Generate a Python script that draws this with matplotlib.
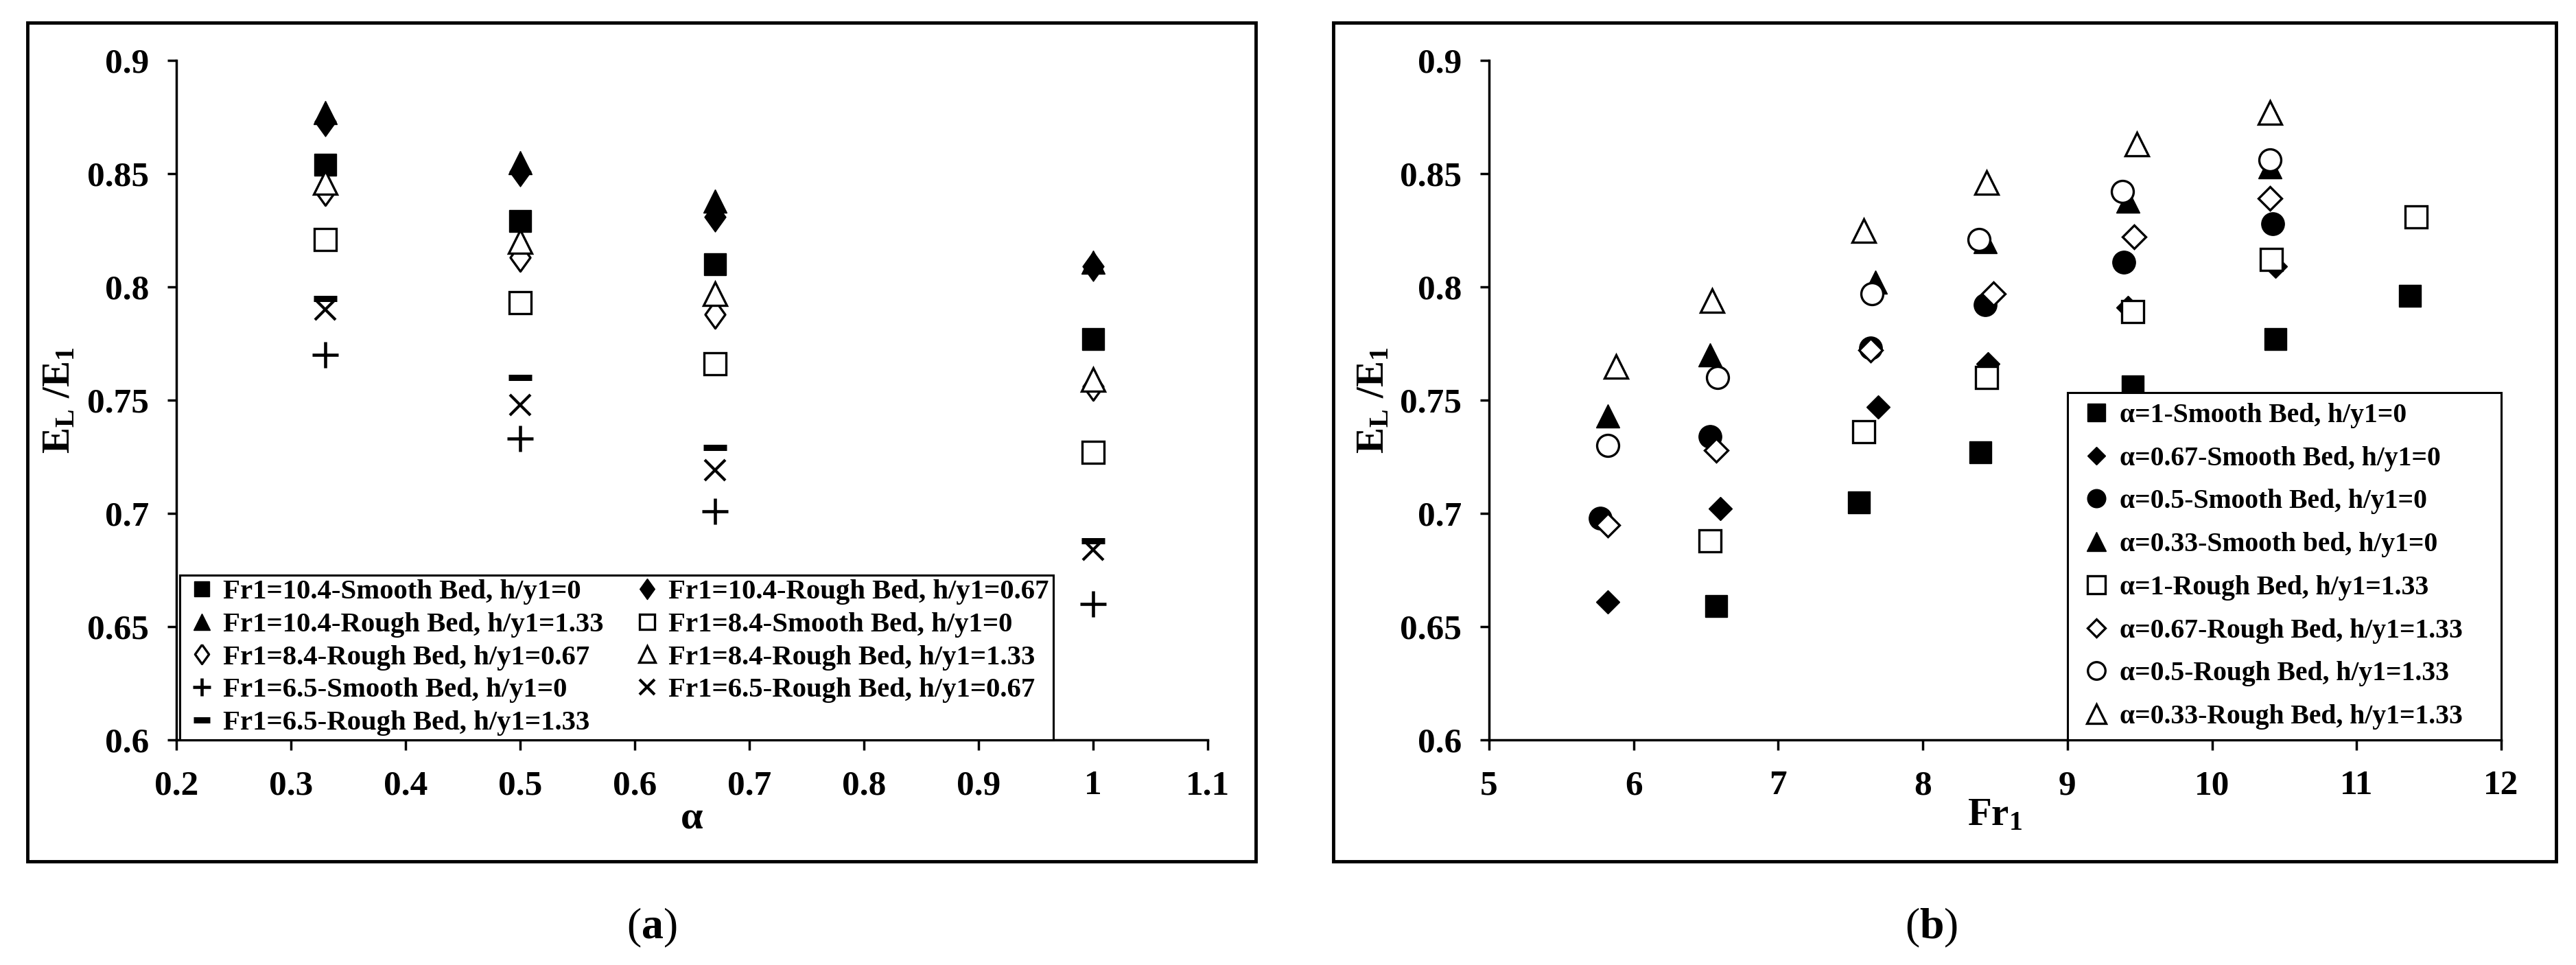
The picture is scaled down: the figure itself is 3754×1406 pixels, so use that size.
import matplotlib
matplotlib.use("Agg")
import matplotlib.pyplot as plt
from matplotlib.patches import Rectangle

plt.rcParams['font.family'] = ['Liberation Serif', 'DejaVu Serif']
plt.rcParams['font.weight'] = 'bold'
plt.rcParams['mathtext.fontset'] = 'custom'
plt.rcParams['mathtext.rm'] = 'Liberation Serif'
plt.rcParams['mathtext.bf'] = 'Liberation Serif:bold'
plt.rcParams['mathtext.it'] = 'Liberation Serif:italic'

# ---------------- data: panel (a) ----------------
alpha_vals = [0.33, 0.5, 0.67, 1.0]
a_fr104_smooth = [0.854, 0.829, 0.810, 0.777]
a_fr104_rough067 = [0.873, 0.851, 0.831, 0.809]
a_fr104_rough133 = [0.877, 0.855, 0.838, 0.811]
a_fr84_smooth = [0.821, 0.793, 0.766, 0.727]
a_fr84_rough067 = [0.842, 0.813, 0.788, 0.756]
a_fr84_rough133 = [0.846, 0.820, 0.797, 0.759]
a_fr65_smooth = [0.770, 0.733, 0.701, 0.660]
a_fr65_rough067 = [0.790, 0.748, 0.719, 0.684]
a_fr65_rough133 = [0.795, 0.760, 0.729, 0.688]
a_labels = ["Fr1=10.4-Smooth Bed, h/y1=0", "Fr1=10.4-Rough Bed, h/y1=0.67",
            "Fr1=10.4-Rough Bed, h/y1=1.33", "Fr1=8.4-Smooth Bed, h/y1=0",
            "Fr1=8.4-Rough Bed, h/y1=0.67", "Fr1=8.4-Rough Bed, h/y1=1.33",
            "Fr1=6.5-Smooth Bed, h/y1=0", "Fr1=6.5-Rough Bed, h/y1=0.67",
            "Fr1=6.5-Rough Bed, h/y1=1.33"]
a_xticks = [0.2, 0.3, 0.4, 0.5, 0.6, 0.7, 0.8, 0.9, 1.0, 1.1]
a_xticklabels = ["0.2", "0.3", "0.4", "0.5", "0.6", "0.7", "0.8", "0.9", "1", "1.1"]
yticks = [0.6, 0.65, 0.7, 0.75, 0.8, 0.85, 0.9]
yticklabels = ["0.6", "0.65", "0.7", "0.75", "0.8", "0.85", "0.9"]

# ---------------- data: panel (b) ----------------
b_a1_smooth_x = [6.57, 7.56, 8.40, 9.45, 10.44, 11.37]
b_a1_smooth_y = [0.659, 0.705, 0.727, 0.756, 0.777, 0.796]
b_a067_smooth_x = [5.82, 6.60, 7.69, 8.45, 9.42, 10.44]
b_a067_smooth_y = [0.661, 0.702, 0.747, 0.766, 0.791, 0.809]
b_a05_smooth_x = [5.77, 6.53, 7.64, 8.43, 9.39, 10.42]
b_a05_smooth_y = [0.698, 0.734, 0.773, 0.792, 0.811, 0.828]
b_a033_smooth_x = [5.82, 6.53, 7.67, 8.43, 9.42, 10.40]
b_a033_smooth_y = [0.743, 0.770, 0.802, 0.820, 0.838, 0.853]
b_a1_rough_x = [6.53, 7.59, 8.44, 9.45, 10.41, 11.41]
b_a1_rough_y = [0.688, 0.736, 0.760, 0.789, 0.812, 0.831]
b_a067_rough_x = [5.82, 6.57, 7.64, 8.49, 9.46, 10.40]
b_a067_rough_y = [0.695, 0.728, 0.772, 0.797, 0.822, 0.839]
b_a05_rough_x = [5.82, 6.58, 7.65, 8.39, 9.38, 10.40]
b_a05_rough_y = [0.730, 0.760, 0.797, 0.821, 0.842, 0.856]
b_a033_rough_x = [5.88, 6.54, 7.59, 8.44, 9.48, 10.40]
b_a033_rough_y = [0.765, 0.794, 0.825, 0.846, 0.863, 0.877]
b_labels = ["α=1-Smooth Bed, h/y1=0", "α=0.67-Smooth Bed, h/y1=0",
            "α=0.5-Smooth Bed, h/y1=0", "α=0.33-Smooth bed, h/y1=0",
            "α=1-Rough Bed, h/y1=1.33", "α=0.67-Rough Bed, h/y1=1.33",
            "α=0.5-Rough Bed, h/y1=1.33", "α=0.33-Rough Bed, h/y1=1.33"]
b_xticks = [5, 6, 7, 8, 9, 10, 11, 12]
b_xticklabels = ["5", "6", "7", "8", "9", "10", "11", "12"]

# ---------------- layout ----------------
W, H = 3754, 1406
fig = plt.figure(figsize=(W / 100, H / 100), dpi=100)


def px_rect(x0, y0, x1, y1):
    return [x0 / W, 1 - y1 / H, (x1 - x0) / W, (y1 - y0) / H]


def add_frame(x0, y0, x1, y1):
    r = px_rect(x0, y0, x1, y1)
    fig.add_artist(Rectangle((r[0], r[1]), r[2], r[3], transform=fig.transFigure,
                             fill=False, lw=3.5, ec='black', zorder=0))


add_frame(40, 33, 1830, 1255)
add_frame(1943, 33, 3725, 1255)

ax1 = fig.add_axes(px_rect(257, 88, 1760, 1078))
ax2 = fig.add_axes(px_rect(2170, 88, 3645, 1078))

TALL_DIAMOND = [(0, 1), (0.72, 0), (0, -1), (-0.72, 0), (0, 1)]
OPEN = dict(mfc='white', mec='black', mew=2.4)
FILL = dict(mfc='black', mec='black')

# ---------------- panel (a) ----------------
a_series = [a_fr104_smooth, a_fr104_rough067, a_fr104_rough133, a_fr84_smooth,
            a_fr84_rough067, a_fr84_rough133, a_fr65_smooth, a_fr65_rough067,
            a_fr65_rough133]
a_styles = [
    dict(marker='s', ms=23, **FILL),
    dict(marker=TALL_DIAMOND, ms=31, **FILL),
    dict(marker='^', ms=24, **FILL),
    dict(marker='s', ms=23, **OPEN),
    dict(marker=TALL_DIAMOND, ms=29, **OPEN),
    dict(marker='^', ms=24, **OPEN),
    dict(marker='+', ms=27, mec='black', mew=3.3),
    dict(marker='x', ms=22, mec='black', mew=3.0),
    dict(marker='_', ms=24, mec='black', mew=6.5),
]
a_handles = []
for vals, st, lab in zip(a_series, a_styles, a_labels):
    h, = ax1.plot(alpha_vals, vals, linestyle='none', label=lab, **st)
    a_handles.append(h)

# ---------------- panel (b) ----------------
b_series = [(b_a1_smooth_x, b_a1_smooth_y), (b_a067_smooth_x, b_a067_smooth_y),
            (b_a05_smooth_x, b_a05_smooth_y), (b_a033_smooth_x, b_a033_smooth_y),
            (b_a1_rough_x, b_a1_rough_y), (b_a067_rough_x, b_a067_rough_y),
            (b_a05_rough_x, b_a05_rough_y), (b_a033_rough_x, b_a033_rough_y)]
b_styles = [
    dict(marker='s', ms=23, **FILL),
    dict(marker='D', ms=17, **FILL),
    dict(marker='o', ms=24, **FILL),
    dict(marker='^', ms=25, **FILL),
    dict(marker='s', ms=23, **OPEN),
    dict(marker='D', ms=17, **OPEN),
    dict(marker='o', ms=23, **OPEN),
    dict(marker='^', ms=25, **OPEN),
]
b_handles = []
for (xs, ys), st, lab in zip(b_series, b_styles, b_labels):
    h, = ax2.plot(xs, ys, linestyle='none', label=lab, **st)
    b_handles.append(h)

# ---------------- axes styling ----------------
for ax in (ax1, ax2):
    ax.set_facecolor('none')
    for s in ('top', 'right'):
        ax.spines[s].set_visible(False)
    for s in ('left', 'bottom'):
        ax.spines[s].set_linewidth(2.5)
        ax.spines[s].set_color('black')
    ax.set_ylim(0.6, 0.9)
    ax.set_yticks(yticks)
    ax.set_yticklabels(yticklabels, fontweight='bold')
    ax.tick_params(axis='y', direction='out', length=9.5, width=2.5, pad=19,
                   labelsize=37)
    ax.tick_params(axis='x', direction='out', length=11, width=2.5, pad=21,
                   labelsize=37)

ax1.set_xlim(0.2, 1.1)
ax1.set_xticks(a_xticks)
ax1.set_xticklabels(a_xticklabels, fontweight='bold')
ax2.set_xlim(5, 12)
ax2.set_xticks(b_xticks)
ax2.set_xticklabels(b_xticklabels, fontweight='bold')

ylab = r'$\mathbf{E_L\ /E_1}$'
ax1.text(-0.113, 0.5, ylab, rotation=90, transform=ax1.transAxes,
         ha='center', va='center', fontsize=41)
ax2.text(-0.114, 0.5, ylab, rotation=90, transform=ax2.transAxes,
         ha='center', va='center', fontsize=41)
ax1.text(0.5, -0.117, 'α', transform=ax1.transAxes, ha='center', va='center',
         fontsize=42, fontweight='bold')
ax2.text(0.5, -0.111, r'$\mathbf{Fr_1}$', transform=ax2.transAxes,
         ha='center', va='center', fontsize=41)

# ---------------- legends ----------------
order = [0, 2, 4, 6, 8, 1, 3, 5, 7]
leg1 = ax1.legend([a_handles[i] for i in order], [a_labels[i] for i in order],
                  ncol=2, loc='lower left', bbox_to_anchor=(0.003, 0.0, 0.847, 1.0),
                  mode='expand', borderaxespad=0, markerscale=0.7,
                  handlelength=1.3, handletextpad=0.1, labelspacing=0.25,
                  borderpad=0.15, columnspacing=0.4, fancybox=False, framealpha=1,
                  edgecolor='black', prop={'weight': 'bold', 'size': 29.3})
leg1.get_frame().set_linewidth(2.2)
leg1.set_zorder(5)

leg2 = ax2.legend(b_handles, b_labels, loc='lower left',
                  bbox_to_anchor=(4 / 7, 0.0, 3 / 7, 1.0), mode='expand',
                  borderaxespad=0, markerscale=0.8, handlelength=1.35,
                  handletextpad=0.2, labelspacing=0.65, borderpad=0.38,
                  fancybox=False, framealpha=1, edgecolor='black',
                  prop={'weight': 'bold', 'size': 28.5})
leg2.get_frame().set_linewidth(2.2)
leg2.set_zorder(5)

# ---------------- captions ----------------
fig.text(950 / W, 1 - 1352 / H, r'($\mathbf{a}$)', ha='center', va='center',
         fontsize=46, fontweight='normal')
fig.text(2815 / W, 1 - 1352 / H, r'($\mathbf{b}$)', ha='center', va='center',
         fontsize=46, fontweight='normal')

fig.savefig('out.png', dpi=100, facecolor='white')
